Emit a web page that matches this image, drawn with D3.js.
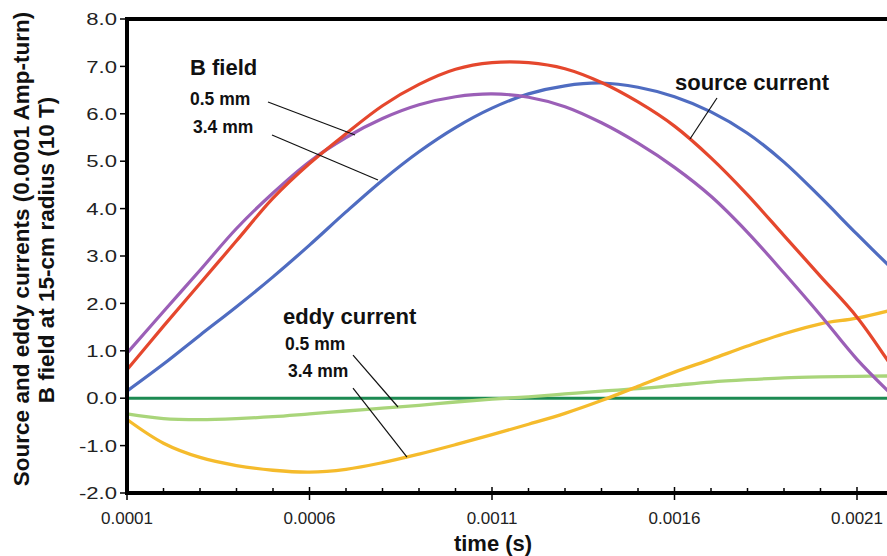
<!DOCTYPE html>
<html><head><meta charset="utf-8">
<script src="https://cdn.jsdelivr.net/npm/d3@7"></script>
<style>
html,body{margin:0;padding:0;background:#fff;}
svg{display:block;font-family:"Liberation Sans",Arial,Helvetica,sans-serif;}
</style></head>
<body><svg id="chart" width="887" height="556"></svg>
<script>
// time grid (s)
const tGrid = [0.0001,0.0002,0.0003,0.0004,0.0005,0.0006,0.0007,0.0008,0.0009,0.001,0.0011,0.0012,0.0013,0.0014,0.0015,0.0016,0.0017,0.0018,0.0019,0.002,0.0021,0.0022];
// B field 0.5 mm (red)
const bField05 = [0.60,1.52,2.42,3.32,4.22,4.95,5.58,6.17,6.62,6.94,7.08,7.08,6.95,6.66,6.25,5.74,5.07,4.29,3.43,2.57,1.71,0.61];
// B field 3.4 mm (purple)
const bField34 = [0.95,1.83,2.70,3.58,4.33,4.99,5.50,5.90,6.19,6.36,6.42,6.35,6.15,5.81,5.38,4.87,4.26,3.50,2.64,1.75,0.82,0.04];
// source current (blue)
const sourceCurrent = [0.15,0.72,1.33,1.93,2.56,3.23,3.93,4.60,5.20,5.71,6.12,6.42,6.59,6.65,6.56,6.36,6.04,5.59,4.98,4.24,3.46,2.70];
// eddy current 0.5 mm (light green)
const eddy05 = [-0.33,-0.43,-0.45,-0.43,-0.39,-0.33,-0.27,-0.21,-0.15,-0.08,-0.02,0.03,0.09,0.15,0.20,0.27,0.34,0.39,0.43,0.45,0.46,0.47];
// eddy current 3.4 mm (yellow)
const eddy34 = [-0.45,-0.95,-1.25,-1.42,-1.52,-1.56,-1.50,-1.36,-1.18,-0.98,-0.77,-0.55,-0.32,-0.05,0.25,0.55,0.82,1.10,1.36,1.57,1.69,1.87];
const zeroLine = [0,0];
const zeroTimes = [0.0001,0.0023];

const yTicks = [-2,-1,0,1,2,3,4,5,6,7,8];
const yTickLabels = ["-2.0","-1.0","0.0","1.0","2.0","3.0","4.0","5.0","6.0","7.0","8.0"];
const xMajorTicks = [0.0001,0.0006,0.0011,0.0016,0.0021];
const xMinorTicks = [0.0002,0.0003,0.0004,0.0005,0.0007,0.0008,0.0009,0.001,0.0012,0.0013,0.0014,0.0015,0.0017,0.0018,0.0019,0.002,0.0022];
const xTickLabels = ["0.0001","0.0006","0.0011","0.0016","0.0021"];

const yTitle1 = "Source and eddy currents (0.0001 Amp-turn)";
const yTitle2 = "B field at 15-cm radius (10 T)";
const xTitle = "time (s)";

// annotation labels [text, t, v, size]
const labels = [
  ["B field",0.0002726,6.819,22],
  ["0.5 mm",0.0002726,6.186,17.5],
  ["3.4 mm",0.0002808,5.595,17.5],
  ["source current",0.0016014,6.502,22],
  ["eddy current",0.0005274,1.565,22],
  ["0.5 mm",0.0005329,1.017,17.5],
  ["3.4 mm",0.0005411,0.447,17.5]
];
// leader lines [t1,v1,t2,v2]
const leaders = [
  [0.0004863,6.249,0.0007247,5.553],
  [0.0004973,5.553,0.0007877,4.603],
  [0.0017164,6.333,0.0016424,5.468],
  [0.0007192,0.911,0.0008425,-0.186],
  [0.0007192,0.215,0.0008671,-1.241]
];

const svg = d3.select("#chart");
const x = d3.scaleLinear().domain([0.0001,0.0021]).range([127,857]);
const y = d3.scaleLinear().domain([-2,8]).range([493,19]);
const W = 887;

const plot = svg.append("g");
const line = d3.line().x(d=>x(d[0])).y(d=>y(d[1])).curve(d3.curveCatmullRom.alpha(0.5));

const series = [
  {v:zeroLine, t:zeroTimes, c:"#1c8a52", w:3},
  {v:eddy05, t:tGrid, c:"#a9d57a", w:3.3},
  {v:eddy34, t:tGrid, c:"#f5bb2c", w:3.3},
  {v:sourceCurrent, t:tGrid, c:"#4f6cc1", w:3.2},
  {v:bField34, t:tGrid, c:"#9b5fb7", w:3.2},
  {v:bField05, t:tGrid, c:"#e5472d", w:3.2}
];
series.forEach(s=>{
  plot.append("path").datum(s.t.map((t,i)=>[t,s.v[i]]))
    .attr("d",line).attr("fill","none").attr("stroke",s.c).attr("stroke-width",s.w)
    .attr("stroke-linejoin","round");
});

// leaders
svg.selectAll("line.leader").data(leaders).enter().append("line")
  .attr("x1",d=>x(d[0])).attr("y1",d=>y(d[1])).attr("x2",d=>x(d[2])).attr("y2",d=>y(d[3]))
  .attr("stroke","#111").attr("stroke-width",1.2);

// labels
svg.selectAll("text.lab").data(labels).enter().append("text")
  .attr("x",d=>x(d[1])).attr("y",d=>y(d[2])).attr("font-size",d=>d[3]+"px")
  .attr("font-weight","bold").attr("fill","#111").text(d=>d[0]);

// axes frame
const axisG = svg.append("g");
axisG.append("line").attr("x1",x(0.0001)).attr("x2",x(0.0001)).attr("y1",y(8)-2).attr("y2",y(-2)+2)
  .attr("stroke","#000").attr("stroke-width",4);
axisG.append("line").attr("x1",x(0.0001)-2).attr("x2",W).attr("y1",y(8)).attr("y2",y(8))
  .attr("stroke","#000").attr("stroke-width",4);
axisG.append("line").attr("x1",x(0.0001)-2).attr("x2",W).attr("y1",y(-2)).attr("y2",y(-2))
  .attr("stroke","#000").attr("stroke-width",4);

// y ticks
axisG.selectAll("line.yt").data(yTicks).enter().append("line")
  .attr("x1",x(0.0001)-7).attr("x2",x(0.0001)).attr("y1",d=>y(d)).attr("y2",d=>y(d))
  .attr("stroke","#000").attr("stroke-width",1.5);
axisG.selectAll("text.yl").data(yTicks).enter().append("text")
  .attr("transform",d=>`translate(117,${y(d)}) scale(1.3,1)`)
  .attr("dy","0.36em").attr("text-anchor","end").attr("font-size","17px").attr("fill","#222")
  .text((d,i)=>yTickLabels[i]);

// x ticks
axisG.selectAll("line.xm").data(xMinorTicks).enter().append("line")
  .attr("x1",d=>x(d)).attr("x2",d=>x(d)).attr("y1",y(-2)-5).attr("y2",y(-2))
  .attr("stroke","#000").attr("stroke-width",1.5);
axisG.selectAll("line.xM").data(xMajorTicks).enter().append("line")
  .attr("x1",d=>x(d)).attr("x2",d=>x(d)).attr("y1",y(-2)-6).attr("y2",y(-2)+7)
  .attr("stroke","#000").attr("stroke-width",1.5);
axisG.selectAll("text.xl").data(xMajorTicks).enter().append("text")
  .attr("x",d=>x(d)).attr("y",524).attr("text-anchor","middle").attr("font-size","17px").attr("fill","#222")
  .text((d,i)=>xTickLabels[i]);

// titles
svg.append("text").attr("x",493).attr("y",551).attr("text-anchor","middle")
  .attr("font-size","22px").attr("font-weight","bold").attr("fill","#111").text(xTitle);
svg.append("text").attr("transform","translate(29,249) rotate(-90)").attr("text-anchor","middle")
  .attr("font-size","22.5px").attr("font-weight","bold").attr("fill","#111").text(yTitle1);
svg.append("text").attr("transform","translate(54,250) rotate(-90)").attr("text-anchor","middle")
  .attr("font-size","22.5px").attr("font-weight","bold").attr("fill","#111").text(yTitle2);
</script></body></html>
